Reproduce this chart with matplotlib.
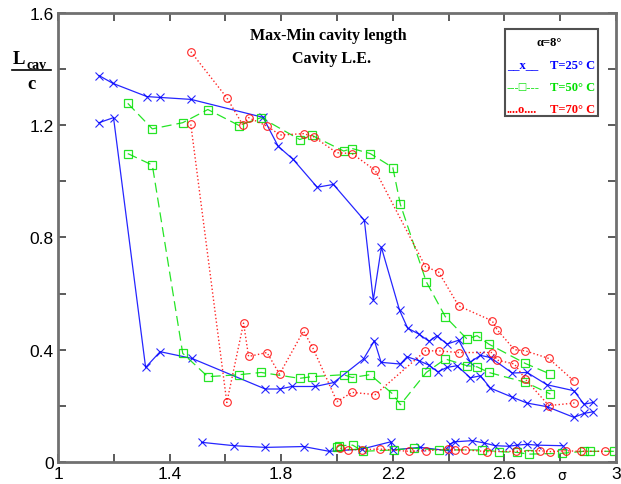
import matplotlib
matplotlib.use("Agg")
import matplotlib.pyplot as plt
from matplotlib.patches import Rectangle

# sigma values and cavity length (max / min) for each water temperature
s25_max = [1.147, 1.197, 1.319, 1.366, 1.477, 1.735, 1.789, 1.843, 1.929, 1.987,
           2.098, 2.130, 2.159, 2.224, 2.253, 2.293, 2.330, 2.358, 2.394, 2.436,
           2.478, 2.514, 2.550, 2.628, 2.681, 2.753, 2.849, 2.885, 2.918]
L25_max = [1.377, 1.349, 1.302, 1.299, 1.292, 1.228, 1.125, 1.078, 0.979, 0.989,
           0.861, 0.577, 0.765, 0.541, 0.477, 0.456, 0.430, 0.450, 0.420, 0.434,
           0.356, 0.380, 0.372, 0.317, 0.319, 0.275, 0.254, 0.206, 0.212]
s25_min = [1.147, 1.199, 1.314, 1.366, 1.480, 1.743, 1.794, 1.838, 1.922, 1.988,
           2.095, 2.134, 2.158, 2.227, 2.251, 2.293, 2.330, 2.361, 2.394, 2.430,
           2.478, 2.514, 2.550, 2.628, 2.681, 2.753, 2.849, 2.885, 2.918]
L25_min = [1.209, 1.227, 0.337, 0.393, 0.369, 0.260, 0.260, 0.269, 0.269, 0.283,
           0.367, 0.432, 0.355, 0.349, 0.375, 0.361, 0.345, 0.321, 0.337, 0.343,
           0.300, 0.307, 0.263, 0.231, 0.210, 0.197, 0.159, 0.173, 0.179]
s25_low = [1.515, 1.631, 1.743, 1.880, 1.972, 2.089, 2.193, 2.199, 2.299, 2.400,
           2.404, 2.424, 2.484, 2.526, 2.568, 2.615, 2.645, 2.681, 2.715, 2.809]
L25_low = [0.070, 0.058, 0.052, 0.055, 0.038, 0.046, 0.072, 0.043, 0.052, 0.040,
           0.064, 0.072, 0.076, 0.068, 0.058, 0.056, 0.060, 0.063, 0.060, 0.058]

s50_max = [1.250, 1.338, 1.447, 1.537, 1.649, 1.728, 1.866, 1.910, 2.024, 2.054,
           2.119, 2.200, 2.227, 2.320, 2.388, 2.466, 2.502, 2.544, 2.675, 2.765]
L50_max = [1.278, 1.187, 1.209, 1.256, 1.199, 1.227, 1.149, 1.164, 1.108, 1.117,
           1.099, 1.049, 0.918, 0.642, 0.518, 0.438, 0.450, 0.420, 0.351, 0.313]
s50_min = [1.250, 1.338, 1.447, 1.537, 1.649, 1.728, 1.866, 1.910, 2.024, 2.054,
           2.119, 2.200, 2.227, 2.320, 2.388, 2.466, 2.502, 2.544, 2.675, 2.765]
L50_min = [1.099, 1.058, 0.387, 0.304, 0.311, 0.319, 0.298, 0.304, 0.311, 0.301,
           0.311, 0.242, 0.204, 0.319, 0.367, 0.343, 0.339, 0.319, 0.284, 0.242]
s50_low = [2.000, 2.008, 2.056, 2.093, 2.203, 2.275, 2.364, 2.519, 2.580, 2.645,
           2.687, 2.807, 2.885, 2.908, 2.992]
L50_low = [0.052, 0.058, 0.060, 0.038, 0.043, 0.049, 0.043, 0.043, 0.037, 0.034,
           0.028, 0.031, 0.038, 0.038, 0.038]

s70_max = [1.476, 1.605, 1.663, 1.683, 1.749, 1.796, 1.880, 1.916, 1.999, 2.054,
           2.137, 2.317, 2.364, 2.436, 2.556, 2.574, 2.636, 2.675, 2.759, 2.851]
L70_max = [1.462, 1.298, 1.200, 1.227, 1.197, 1.165, 1.170, 1.159, 1.102, 1.099,
           1.039, 0.696, 0.677, 0.556, 0.503, 0.471, 0.400, 0.396, 0.369, 0.287]
s70_min = [1.476, 1.605, 1.665, 1.683, 1.749, 1.794, 1.880, 1.914, 2.000, 2.054,
           2.137, 2.317, 2.364, 2.436, 2.556, 2.574, 2.636, 2.675, 2.759, 2.851]
L70_min = [1.203, 0.212, 0.495, 0.376, 0.390, 0.313, 0.467, 0.405, 0.215, 0.248,
           0.240, 0.396, 0.396, 0.390, 0.390, 0.363, 0.349, 0.295, 0.201, 0.210]
s70_low = [2.012, 2.041, 2.089, 2.153, 2.257, 2.320, 2.398, 2.424, 2.460, 2.538,
           2.640, 2.729, 2.765, 2.819, 2.873, 2.962]
L70_low = [0.049, 0.044, 0.044, 0.046, 0.038, 0.040, 0.046, 0.043, 0.043, 0.037,
           0.038, 0.040, 0.037, 0.040, 0.038, 0.038]

xticks = [1, 1.2, 1.4, 1.6, 1.8, 2, 2.2, 2.4, 2.6, 2.8, 3]
xticklabels = ['1', '', '1.4', '', '1.8', '', '2.2', '', '2.6', '', '3']
yticks = [0, 0.2, 0.4, 0.6, 0.8, 1.0, 1.2, 1.4, 1.6]
yticklabels = ['0', '', '0.4', '', '0.8', '', '1.2', '', '1.6']

blue = '#0000ff'
green = '#00e000'
red = '#ff0000'

fig = plt.figure(figsize=(6.21, 4.85), dpi=100)
ax = fig.add_axes([0.0934, 0.0454, 0.8986, 0.9258])

for s, L in [(s25_max, L25_max), (s25_min, L25_min), (s25_low, L25_low)]:
    ax.plot(s, L, '-', color=blue, lw=0.9, marker='x', ms=5.5, mew=0.8, alpha=0.85)
for s, L in [(s50_max, L50_max), (s50_min, L50_min), (s50_low, L50_low)]:
    ax.plot(s, L, '--', color=green, lw=0.9, marker='s', ms=5.5, mew=0.9,
            mfc='none', dashes=(8, 4), alpha=0.85)
for s, L in [(s70_max, L70_max), (s70_min, L70_min), (s70_low, L70_low)]:
    ax.plot(s, L, ':', color=red, lw=1.0, marker='o', ms=5.5, mew=0.8,
            mfc='none', alpha=0.85)

ax.set_xlim(1, 3)
ax.set_ylim(0, 1.6)
ax.set_xticks(xticks)
ax.set_xticklabels(xticklabels)
ax.set_yticks(yticks)
ax.set_yticklabels(yticklabels)
ax.tick_params(direction='in', length=6, width=1.2, color='#404040',
               labelsize=12.5, top=True, right=True, pad=3)
for lab in ax.get_xticklabels() + ax.get_yticklabels():
    lab.set_family('Liberation Sans')
for sp in ax.spines.values():
    sp.set_color('#707070')
    sp.set_linewidth(2)

# title inside the axes
ax.text(0.485, 0.95, 'Max-Min cavity length', transform=ax.transAxes,
        ha='center', va='center', family='Liberation Serif', weight='bold', fontsize=11.5)
ax.text(0.49, 0.90, 'Cavity L.E.', transform=ax.transAxes,
        ha='center', va='center', family='Liberation Serif', weight='bold', fontsize=11.5)

# hand-made legend box
ax.add_patch(Rectangle((0.801, 0.771), 0.167, 0.193, transform=ax.transAxes,
                       fill=False, edgecolor='#505050', lw=1.5))
lkw = dict(transform=ax.transAxes, family='Liberation Serif', weight='bold',
           fontsize=9, va='center')
ax.text(0.88, 0.935, 'α=8°', ha='center', color='black', **lkw)
ax.text(0.804, 0.885, '__x__', ha='left', color=blue, **lkw)
ax.text(0.963, 0.885, 'T=25° C', ha='right', color=blue, **lkw)
ax.text(0.804, 0.835, '---□---', ha='left', color=green, **lkw)
ax.text(0.963, 0.835, 'T=50° C', ha='right', color=green, **lkw)
ax.text(0.804, 0.787, '....o....', ha='left', color=red, **lkw)
ax.text(0.963, 0.787, 'T=70° C', ha='right', color=red, **lkw)

# y label as a fraction L_cav / c
fig.text(0.020, 0.878, 'L', family='Liberation Serif', weight='bold', fontsize=13.5,
         ha='left', va='center')
fig.text(0.043, 0.864, 'cav', family='Liberation Serif', weight='bold', fontsize=10,
         ha='left', va='center')
fig.add_artist(plt.Line2D([0.019, 0.082], [0.853, 0.853], color='black', lw=1.2))
fig.text(0.050, 0.825, 'c', family='Liberation Serif', weight='bold', fontsize=13.5,
         ha='center', va='center')

# x label squeezed under the axis
fig.text(0.905, 0.004, 'σ', fontsize=10, ha='center', va='bottom')

fig.savefig('out.png', dpi=100, facecolor='white')
